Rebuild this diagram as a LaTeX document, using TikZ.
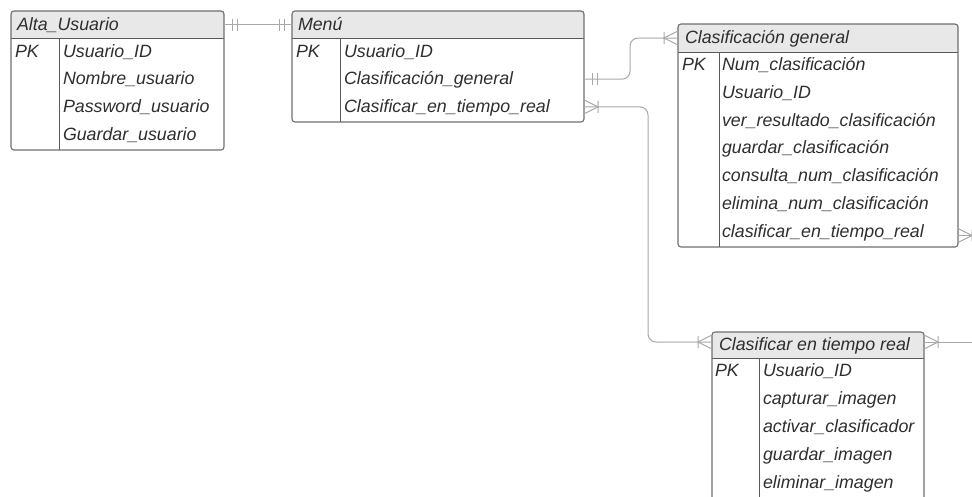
\documentclass[tikz,border=0pt]{standalone}
\usepackage{fontspec}
\setmainfont{Liberation Sans}
\usetikzlibrary{calc}

\definecolor{framecol}{HTML}{6E6E6E}
\definecolor{rulecol}{HTML}{5A5A5A}
\definecolor{hdrfill}{HTML}{E8E8E8}
\definecolor{linkcol}{HTML}{A8A8A8}
\definecolor{ink}{HTML}{2E2E2E}

\tikzset{
  tbl/.style={inner sep=0pt, outer sep=0pt, anchor=north west},
  txt/.style={inner sep=0pt, outer sep=0pt, anchor=west, text height=14pt,
    text depth=3pt, font=\fontsize{17.8}{20}\selectfont\itshape, text=ink},
  framed/.style={draw=framecol, line width=1.1pt, rounded corners=3pt},
  rule/.style={draw=rulecol, line width=1pt},
  conn/.style={draw=linkcol, line width=1pt},
  % exactly one: two bars
  onebar/.pic={\draw[conn] (8,-6) -- (8,6) (13,-6) -- (13,6);},
  % one or many: crow's foot with a bar
  manybar/.pic={\draw[conn] (0,-7) -- (14,0) -- (0,7) (14,-6) -- (14,6);},
}

\begin{document}
\begin{tikzpicture}[x=1pt, y=-1pt]
\useasboundingbox (0,0) rectangle (972,496);
\coordinate (edgeR) at (972,0);

% ---------- Alta_Usuario ----------
\node[tbl, minimum width=213pt, minimum height=139pt] (alta) at (11,11) {};
\node[tbl, minimum width=213pt, minimum height=27pt] (altaH) at (11,11) {};
\begin{scope}
  \clip[rounded corners=3pt] (alta.north west) rectangle (alta.south east);
  \fill[hdrfill] (altaH.north west) rectangle (altaH.south east);
\end{scope}
\draw[rule] (altaH.south west) -- (altaH.south east);
\draw[rule] ([xshift=48pt]altaH.south west) -- ([xshift=48pt]alta.south west);
\draw[framed] (alta.north west) rectangle (alta.south east);
\node[txt] (altaT) at ([xshift=6pt]altaH.west) {Alta\_Usuario};
\node[txt] (altaPK) at (15,51.5) {PK};
\node[txt] (altaR1) at (63,51.5) {Usuario\_ID};
\node[txt] (altaR2) at (63,79.2) {Nombre\_usuario};
\node[txt] (altaR3) at (63,106.9) {Password\_usuario};
\node[txt] (altaR4) at (63,134.6) {Guardar\_usuario};

% ---------- Menú ----------
\node[tbl, minimum width=292pt, minimum height=111pt] (menu) at (292,11) {};
\node[tbl, minimum width=292pt, minimum height=27pt] (menuH) at (292,11) {};
\begin{scope}
  \clip[rounded corners=3pt] (menu.north west) rectangle (menu.south east);
  \fill[hdrfill] (menuH.north west) rectangle (menuH.south east);
\end{scope}
\draw[rule] (menuH.south west) -- (menuH.south east);
\draw[rule] ([xshift=48pt]menuH.south west) -- ([xshift=48pt]menu.south west);
\draw[framed] (menu.north west) rectangle (menu.south east);
\node[txt] (menuT) at ([xshift=6pt]menuH.west) {Menú};
\node[txt] (menuPK) at (296,51.5) {PK};
\node[txt] (menuR1) at (344,51.5) {Usuario\_ID};
\node[txt] (menuR2) at (344,79.2) {Clasificación\_general};
\node[txt] (menuR3) at (344,106.9) {Clasificar\_en\_tiempo\_real};

% ---------- Clasificación general ----------
\node[tbl, minimum width=280pt, minimum height=223pt] (cg) at (678,24) {};
\node[tbl, minimum width=280pt, minimum height=28pt] (cgH) at (678,24) {};
\begin{scope}
  \clip[rounded corners=3pt] (cg.north west) rectangle (cg.south east);
  \fill[hdrfill] (cgH.north west) rectangle (cgH.south east);
\end{scope}
\draw[rule] (cgH.south west) -- (cgH.south east);
\draw[rule] ([xshift=41pt]cgH.south west) -- ([xshift=41pt]cg.south west);
\draw[framed] (cg.north west) rectangle (cg.south east);
\node[txt] (cgT) at ([xshift=7pt]cgH.west) {Clasificación general};
\node[txt] (cgPK) at (682,65.3) {PK};
\node[txt] (cgR1) at (722,65.3) {Num\_clasificación};
\node[txt] (cgR2) at (722,93) {Usuario\_ID};
\node[txt] (cgR3) at (722,120.7) {ver\_resultado\_clasificación};
\node[txt] (cgR4) at (722,148.4) {guardar\_clasificación};
\node[txt] (cgR5) at (722,176.1) {consulta\_num\_clasificación};
\node[txt] (cgR6) at (722,203.8) {elimina\_num\_clasificación};
\node[txt] (cgR7) at (722,231.5) {clasificar\_en\_tiempo\_real};

% ---------- Clasificar en tiempo real (runs past the lower edge) ----------
\node[tbl, minimum width=212pt, minimum height=170pt] (crt) at (712,332) {};
\node[tbl, minimum width=212pt, minimum height=26pt] (crtH) at (712,332) {};
\begin{scope}
  \clip[rounded corners=3pt] (crt.north west) rectangle (crt.south east);
  \fill[hdrfill] (crtH.north west) rectangle (crtH.south east);
\end{scope}
\draw[rule] (crtH.south west) -- (crtH.south east);
\draw[rule] ([xshift=47pt]crtH.south west) -- ([xshift=47pt]crt.south west);
\draw[framed] (crt.south west) -- (crt.north west) -- (crt.north east) -- (crt.south east);
\node[txt] (crtT) at ([xshift=7pt]crtH.west) {Clasificar en tiempo real};
\node[txt] (crtPK) at (715,371.2) {PK};
\node[txt] (crtR1) at (763,371.2) {Usuario\_ID};
\node[txt] (crtR2) at (763,399.1) {capturar\_imagen};
\node[txt] (crtR3) at (763,427) {activar\_clasificador};
\node[txt] (crtR4) at (763,454.9) {guardar\_imagen};
\node[txt] (crtR5) at (763,482.8) {eliminar\_imagen};

% ---------- relationships ----------
\coordinate (crtIn) at ([yshift=3pt]crtH.west);
\coordinate (crtOut) at ([yshift=3pt]crtH.east);
\coordinate (cgOut) at ($(cg.east |- cgR7)+(0,4)$);

% Alta_Usuario -- Menú
\draw[conn] (altaH.east) -- (menuH.west);
\pic at (altaH.east) {onebar};
\pic[xscale=-1] at (menuH.west) {onebar};

% Menú -- Clasificación general
\draw[conn, rounded corners=8pt] (menu.east |- menuR2) -- ++(46,0) |- (cgH.west);
\pic at (menu.east |- menuR2) {onebar};
\pic[xscale=-1] at (cgH.west) {manybar};

% Menú -- Clasificar en tiempo real
\draw[conn, rounded corners=8pt] (menu.east |- menuR3) -- ++(64,0) |- (crtIn);
\pic at (menu.east |- menuR3) {manybar};
\pic[xscale=-1] at (crtIn) {manybar};

% links leaving to the right
\draw[conn] (crtOut) -- (crtOut -| edgeR);
\pic at (crtOut) {manybar};
\draw[conn] (cgOut) -- (cgOut -| edgeR);
\pic at (cgOut) {manybar};
\end{tikzpicture}
\end{document}
